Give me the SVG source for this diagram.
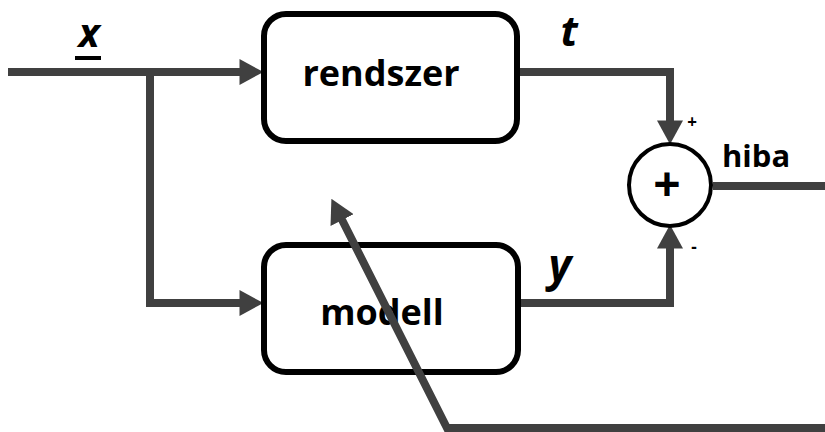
<svg xmlns="http://www.w3.org/2000/svg" width="825" height="432" viewBox="0 0 825 432">
<style>
.wire{fill:none;stroke:#404040;stroke-width:8;stroke-linejoin:miter}
.box{fill:#fff;stroke:#000;stroke-width:6}
.lbl{font-family:"Open Sans","Liberation Sans",sans-serif;font-weight:bold;fill:#000}
.var{font-family:"Open Sans","Liberation Sans",sans-serif;font-weight:bold;font-style:italic;fill:#000}
</style>
<defs>
<marker id="ah" markerUnits="userSpaceOnUse" markerWidth="24" markerHeight="26" viewBox="0 0 22 24" refX="6" refY="12" orient="auto">
<path d="M0,0 L22,12 L0,24 z" fill="#404040"/>
</marker>
</defs>
<g id="connectors">
<path class="wire" d="M8,72 H246" marker-end="url(#ah)"/>
<path class="wire" d="M150,72 V303 H246" marker-end="url(#ah)"/>
<path class="wire" d="M517,72 H670 V127" marker-end="url(#ah)"/>
<path class="wire" d="M518,303 H670 V242" marker-end="url(#ah)"/>
<path class="wire" d="M713,186 H825"/>
</g>
<g id="rendszer">
<rect class="box" x="264" y="14" width="253" height="127" rx="22"/>
<text class="lbl" x="381" y="86" font-size="36" text-anchor="middle">rendszer</text>
</g>
<g id="modell">
<rect class="box" x="264" y="245" width="254" height="127" rx="22"/>
<text class="lbl" x="382" y="325" font-size="36" text-anchor="middle">modell</text>
</g>
<g id="sum">
<circle cx="670" cy="185" r="41" fill="#fff" stroke="#000" stroke-width="4"/>
<text class="lbl" x="667" y="201" font-size="48" text-anchor="middle">+</text>
<text class="lbl" x="692" y="128" font-size="17" text-anchor="middle">+</text>
<text class="lbl" x="694" y="253" font-size="17" text-anchor="middle">-</text>
</g>
<g id="adjust">
<path class="wire" d="M825,428 H447 L339.2,214.3" marker-end="url(#ah)"/>
</g>
<g id="labels">
<text class="var" x="89" y="47" font-size="40" text-anchor="middle">x</text>
<rect x="75" y="56" width="26" height="4" fill="#000"/>
<text class="var" x="569" y="46" font-size="42" text-anchor="middle">t</text>
<text class="var" x="560" y="281" font-size="44" text-anchor="middle">y</text>
<text class="lbl" x="722" y="167" font-size="31">hiba</text>
</g>
</svg>
